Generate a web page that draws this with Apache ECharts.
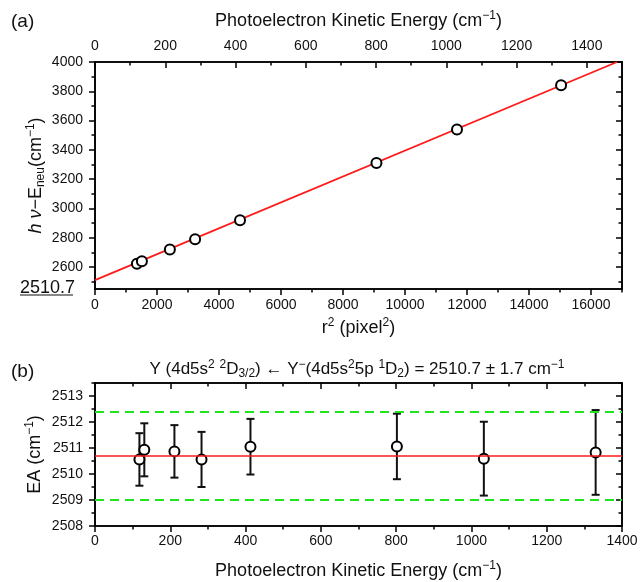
<!DOCTYPE html>
<html>
<head>
<meta charset="utf-8" />
<title>Y electron affinity</title>
<script src="https://cdn.jsdelivr.net/npm/echarts@6/dist/echarts.min.js"></script>
<style>html,body{margin:0;padding:0;background:#fff;}</style>
</head>
<body>
<div id="main" style="width:640px;height:582px;"></div>
<script>
// (a) hv - E_neu against r^2 of each ring
var r2 = [1352, 1513, 2415, 3229, 4678, 9079, 11677, 15035];
var energy = [2623, 2639, 2719, 2789, 2920, 3310, 3539, 3841];
var fitLine = [[0, 2510.7], [16840, 4000]];

// (b) EA from each ring, with error bars
var ke = [118, 131, 211, 283, 413, 802, 1033, 1330];
var ea = [2510.56, 2510.93, 2510.87, 2510.56, 2511.05, 2511.06, 2510.59, 2510.83];
var eaErr = [1.01, 1.02, 1.01, 1.06, 1.07, 1.26, 1.42, 1.63];
var eaMean = 2510.7;
var eaBand = 1.7;

// tick values
var r2Ticks = [0, 2000, 4000, 6000, 8000, 10000, 12000, 14000, 16000];
var r2Minor = [1000, 3000, 5000, 7000, 9000, 11000, 13000, 15000, 17000];
var keTopTicks = [0, 200, 400, 600, 800, 1000, 1200, 1400];
var keTopMinor = [100, 300, 500, 700, 900, 1100, 1300, 1500];
var eTicks = [2600, 2800, 3000, 3200, 3400, 3600, 3800, 4000];
var eMinor = [2500, 2700, 2900, 3100, 3300, 3500, 3700, 3900];
var keTicks = [0, 200, 400, 600, 800, 1000, 1200, 1400];
var keMinor = [100, 300, 500, 700, 900, 1100, 1300];
var eaTicks = [2508, 2509, 2510, 2511, 2512, 2513];
var eaMinor = [2508.5, 2509.5, 2510.5, 2511.5, 2512.5, 2513.5];

var FONT = '"Liberation Sans", Arial, sans-serif';
var INK = '#111';

function rich(size) {
    var s = Math.round(size * 0.68);
    var p = Math.round(size * 0.55);
    return {
        sup: { fontSize: s, fontFamily: FONT, color: INK, padding: [0, 0, p, 0] },
        sub: { fontSize: s, fontFamily: FONT, color: INK, padding: [p, 0, 0, 0] },
        it: { fontSize: size, fontFamily: FONT, color: INK, fontStyle: 'italic' },
        n: { fontSize: size, fontFamily: FONT, color: INK }
    };
}

function ax(o) {
    var a = {
        type: 'value',
        gridIndex: o.grid,
        position: o.pos,
        min: o.min,
        max: o.max,
        silent: true,
        axisLine: { show: true, onZero: false, lineStyle: { color: '#000', width: 1.6 } },
        axisTick: {
            show: true, inside: !!o.inside, length: o.minor ? 3.5 : 6,
            customValues: o.ticks, lineStyle: { color: '#000', width: 1.5 }
        },
        axisLabel: { show: false },
        splitLine: { show: false }
    };
    if (o.labels) {
        a.axisLabel = {
            show: true, customValues: o.labels, fontSize: 14,
            fontFamily: FONT, color: INK, margin: o.margin,
            formatter: function (v) { return String(v); }
        };
    }
    if (o.name) {
        a.name = o.name;
        a.nameLocation = 'middle';
        a.nameGap = o.nameGap;
        a.nameMoveOverlap = false;
        a.nameTextStyle = { fontSize: 18, fontFamily: FONT, color: INK, rich: rich(18) };
    }
    return a;
}

var keName = 'Photoelectron Kinetic Energy (cm{sup|−1})';

var xAxes = [
    ax({ grid: 0, pos: 'bottom', min: 0, max: 17000, ticks: r2Ticks, labels: r2Ticks, margin: 9,
         name: 'r{sup|2} (pixel{sup|2})', nameGap: 28 }),
    ax({ grid: 0, pos: 'bottom', min: 0, max: 17000, ticks: r2Minor, minor: true }),
    ax({ grid: 0, pos: 'top', min: 0, max: 1500, ticks: keTopTicks, labels: keTopTicks, inside: true, margin: 9,
         name: keName, nameGap: 30 }),
    ax({ grid: 0, pos: 'top', min: 0, max: 1500, ticks: keTopMinor, inside: true, minor: true }),
    ax({ grid: 1, pos: 'bottom', min: 0, max: 1400, ticks: keTicks, labels: keTicks, margin: 8,
         name: keName, nameGap: 34 }),
    ax({ grid: 1, pos: 'bottom', min: 0, max: 1400, ticks: keMinor, minor: true }),
    ax({ grid: 1, pos: 'top', min: 0, max: 1400, ticks: keTicks, inside: true }),
    ax({ grid: 1, pos: 'top', min: 0, max: 1400, ticks: keMinor, inside: true, minor: true })
];

var yAxes = [
    ax({ grid: 0, pos: 'left', min: 2450, max: 4000, ticks: eTicks, labels: eTicks, margin: 12,
         name: '{it|h ν}{n|−E}{sub|neu}{n|(cm}{sup|−1}{n|)}', nameGap: 48 }),
    ax({ grid: 0, pos: 'left', min: 2450, max: 4000, ticks: eMinor, minor: true }),
    ax({ grid: 0, pos: 'right', min: 2450, max: 4000, ticks: eTicks, inside: true }),
    ax({ grid: 0, pos: 'right', min: 2450, max: 4000, ticks: eMinor, inside: true, minor: true }),
    ax({ grid: 1, pos: 'left', min: 2508, max: 2513.5, ticks: eaTicks, labels: eaTicks, margin: 12,
         name: 'EA (cm{sup|−1})', nameGap: 49 }),
    ax({ grid: 1, pos: 'left', min: 2508, max: 2513.5, ticks: eaMinor, minor: true }),
    ax({ grid: 1, pos: 'right', min: 2508, max: 2513.5, ticks: eaTicks, inside: true }),
    ax({ grid: 1, pos: 'right', min: 2508, max: 2513.5, ticks: eaMinor, inside: true, minor: true })
];

var errData = ke.map(function (k, i) { return [k, ea[i] - eaErr[i], ea[i] + eaErr[i]]; });

var titleB = 'Y (4d5s{sup|2} {sup|2}D{sub|3/2}) ← Y{sup|−}(4d5s{sup|2}5p {sup|1}D{sub|2}) = 2510.7 ± 1.7 cm{sup|−1}';

var myChart = echarts.init(document.getElementById('main'));

var option = {
    animation: false,
    backgroundColor: '#fff',
    grid: [
        { left: 95, right: 18, top: 62, height: 227, outerBoundsMode: 'none' },
        { left: 95, right: 18, top: 383, height: 143, outerBoundsMode: 'none' }
    ],
    xAxis: xAxes,
    yAxis: yAxes,
    graphic: [
        { type: 'text', left: 11, top: 12, style: { text: '(a)', font: '19px ' + FONT, fill: INK } },
        { type: 'text', left: 11, top: 362, style: { text: '(b)', font: '19px ' + FONT, fill: INK } },
        { type: 'text', x: 357, y: 369, style: {
            text: titleB, textAlign: 'center', textVerticalAlign: 'middle',
            font: '17px ' + FONT, fill: INK, rich: rich(17) } },
        { type: 'text', left: 20, top: 279, style: { text: String(eaMean), font: '18px ' + FONT, fill: INK } },
        { type: 'line', shape: { x1: 20, y1: 295, x2: 73, y2: 295 }, style: { stroke: INK, lineWidth: 1.2 } }
    ],
    series: [
        {
            name: 'fit',
            type: 'line',
            xAxisIndex: 0, yAxisIndex: 0,
            data: fitLine,
            showSymbol: false,
            clip: true,
            lineStyle: { color: '#ff1a1a', width: 1.8 },
            z: 2
        },
        {
            name: 'rings',
            type: 'scatter',
            xAxisIndex: 0, yAxisIndex: 0,
            data: r2.map(function (v, i) { return [v, energy[i]]; }),
            symbol: 'circle',
            symbolSize: 10,
            itemStyle: { color: '#fff', borderColor: '#000', borderWidth: 2, opacity: 1 },
            z: 3
        },
        {
            name: 'errors',
            type: 'custom',
            xAxisIndex: 4, yAxisIndex: 4,
            data: errData,
            encode: { x: 0, y: [1, 2] },
            renderItem: function (params, api) {
                var x = api.value(0);
                var top = api.coord([x, api.value(2)]);
                var bot = api.coord([x, api.value(1)]);
                var w = 4;
                var st = { stroke: '#111', lineWidth: 2 };
                return {
                    type: 'group',
                    children: [
                        { type: 'line', shape: { x1: top[0], y1: top[1], x2: bot[0], y2: bot[1] }, style: st },
                        { type: 'line', shape: { x1: top[0] - w, y1: top[1], x2: top[0] + w, y2: top[1] }, style: st },
                        { type: 'line', shape: { x1: bot[0] - w, y1: bot[1], x2: bot[0] + w, y2: bot[1] }, style: st }
                    ]
                };
            },
            markLine: {
                silent: true,
                symbol: 'none',
                label: { show: false },
                data: [
                    { yAxis: eaMean, lineStyle: { color: '#ff1a1a', width: 1.5, type: 'solid' } },
                    { yAxis: eaMean + eaBand, lineStyle: { color: '#1ee61e', width: 2, type: [9, 6] } },
                    { yAxis: eaMean - eaBand, lineStyle: { color: '#1ee61e', width: 2, type: [9, 6] } }
                ]
            },
            z: 2
        },
        {
            name: 'EA',
            type: 'scatter',
            xAxisIndex: 4, yAxisIndex: 4,
            data: ke.map(function (k, i) { return [k, ea[i]]; }),
            symbol: 'circle',
            symbolSize: 10,
            itemStyle: { color: '#fff', borderColor: '#000', borderWidth: 2, opacity: 1 },
            z: 3
        }
    ]
};
myChart.setOption(option);
</script>
</body>
</html>
